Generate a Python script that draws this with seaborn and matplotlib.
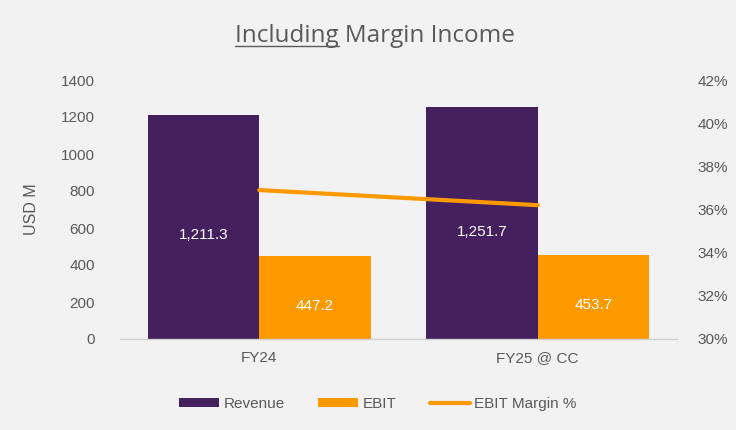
import numpy as np
import pandas as pd
import matplotlib
matplotlib.use("Agg")
import matplotlib.pyplot as plt
from matplotlib.lines import Line2D
from matplotlib.patches import Patch
from matplotlib.ticker import FuncFormatter, MultipleLocator
import seaborn as sns

categories = ["FY24", "FY25 @ CC"]
revenue = [1211.3, 1251.7]
ebit = [447.2, 453.7]
margin_pct = [36.9, 36.2]
series_names = ["Revenue", "EBIT", "EBIT Margin %"]
title_parts = ["Including", " Margin Income"]
y_label = "USD M"

PURPLE = "#44205E"
ORANGE = "#FF9900"
TEXT = "#595959"
BG = "#F2F2F2"

sns.set_theme(style="white")
plt.rcParams["font.family"] = ["Liberation Sans", "DejaVu Sans"]

df = pd.DataFrame({
    "cat": categories * 2,
    "value": revenue + ebit,
    "series": [series_names[0]] * len(categories) + [series_names[1]] * len(categories),
})

fig = plt.figure(figsize=(7.36, 4.30), dpi=100, facecolor=BG)
ax = fig.add_axes([120 / 736, 1 - 339 / 430, (677 - 120) / 736, (339 - 80) / 430])
ax.set_facecolor(BG)

sns.barplot(data=df, x="cat", y="value", hue="series", palette=[PURPLE, ORANGE],
            width=0.8, saturation=1, ax=ax, legend=False, edgecolor="none", linewidth=0)

ax.set_ylim(0, 1400)
ax.yaxis.set_major_locator(MultipleLocator(200))
ax.set_xlabel("")
ax.set_ylabel(y_label, color=TEXT, fontsize=11.5, labelpad=16)
ax.tick_params(axis="both", length=0, colors=TEXT, labelsize=11)
ax.tick_params(axis="x", pad=9)
ax.tick_params(axis="y", pad=18)
for s in ["top", "right", "left"]:
    ax.spines[s].set_visible(False)
ax.spines["bottom"].set_color("#D0D0D0")
ax.spines["bottom"].set_linewidth(1.0)

for cont in ax.containers:
    for rect in cont:
        h = rect.get_height()
        ax.annotate(f"{h:,.1f}", (rect.get_x() + rect.get_width() / 2, h / 2),
                    xytext=(0, -6), textcoords="offset points",
                    ha="center", va="center", color="white", fontsize=11)

ax2 = ax.twinx()
sns.lineplot(x=np.arange(len(categories)), y=margin_pct, ax=ax2, color=ORANGE, linewidth=3,
             solid_capstyle="round")
ax2.set_ylim(30, 42)
ax2.yaxis.set_major_locator(MultipleLocator(2))
ax2.yaxis.set_major_formatter(FuncFormatter(lambda v, p: f"{v:.0f}%"))
ax2.tick_params(axis="y", length=0, colors=TEXT, labelsize=11, pad=15)
for s in ["top", "right", "left", "bottom"]:
    ax2.spines[s].set_visible(False)
ax.set_xlim(-0.5, len(categories) - 0.5)

handles = [Patch(facecolor=PURPLE, edgecolor="none"),
           Patch(facecolor=ORANGE, edgecolor="none"),
           Line2D([0], [0], color=ORANGE, linewidth=3, solid_capstyle="round")]
fig.legend(handles, series_names, loc="center", bbox_to_anchor=(378 / 736, 1 - 404 / 430),
           ncol=3, frameon=False, fontsize=11, labelcolor=TEXT, handlelength=2.6,
           handleheight=0.55, columnspacing=2.2, handletextpad=0.3)

# Title with underlined first word
FS = 17.5
full_title = "".join(title_parts)
t = fig.text(375 / 736, 1 - 36 / 430, full_title, ha="center", va="center",
             fontsize=FS, color=TEXT, family=["Open Sans", "DejaVu Sans"])
fig.canvas.draw()
r = fig.canvas.get_renderer()
bb = t.get_window_extent(r)
tmp = fig.text(0, 0, title_parts[0], fontsize=FS, family=["Open Sans", "DejaVu Sans"])
wb = tmp.get_window_extent(r)
tmp.remove()
x0 = bb.x0
x1 = bb.x0 + wb.width
yl = 430 - 46
fig.add_artist(Line2D([x0 / 736, x1 / 736], [yl / 430, yl / 430], color=TEXT,
                      linewidth=1.0, transform=fig.transFigure))

fig.savefig("out.png", dpi=100, facecolor=BG)
